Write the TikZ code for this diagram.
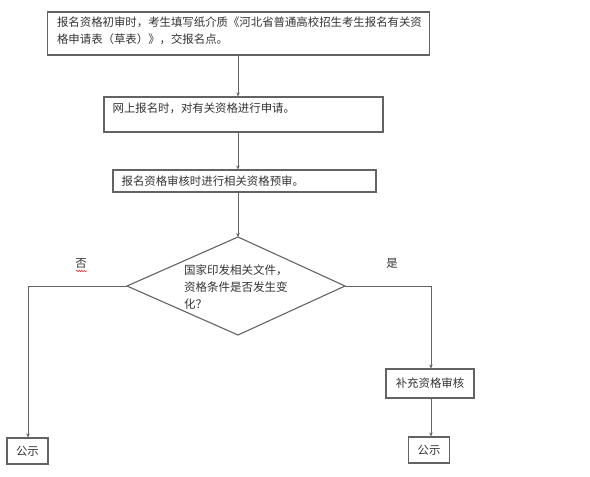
\documentclass[tikz,border=0pt]{standalone}
\usepackage{fontspec}
\setmainfont{Noto Sans CJK SC}
\usetikzlibrary{arrows.meta,decorations.pathmorphing}
\definecolor{edge}{HTML}{636363}
\definecolor{ink}{HTML}{333333}
\begin{document}
\begin{tikzpicture}[x=1pt,y=-1pt,
  box/.style={draw=edge,line width=1.2pt,inner sep=0pt},
  txt/.style={text=ink,font=\fontsize{11.4}{17}\selectfont,inner sep=0pt,align=left},
  conn/.style={draw=edge,line width=1pt},
  arr/.style={conn,-{Stealth[length=4pt,width=3.5pt]}}]
\useasboundingbox (0,0) rectangle (590,477);
% box 1
\node[box,minimum width=382pt,minimum height=43pt] (b1) at (238.5,33.5) {};
\node[txt,anchor=north west] (t1) at ([xshift=10pt,yshift=-5pt]b1.north west)
  {报名资格初审时，考生填写纸介质《河北省普通高校招生考生报名有关资\\格申请表（草表）》，交报名点。};
% box 2
\node[box,minimum width=279pt,minimum height=35pt] (b2) at (243.5,114.5) {};
\node[txt,anchor=west] (t2) at ([xshift=9pt,yshift=6.5pt]b2.west) {网上报名时，对有关资格进行申请。};
% box 3
\node[box,minimum width=263pt,minimum height=22pt] (b3) at (244.5,181) {};
\node[txt,anchor=west] (t3) at ([xshift=9pt]b3.west) {报名资格审核时进行相关资格预审。};
% diamond
\coordinate (dT) at (238,237);
\coordinate (dL) at (127,286);
\coordinate (dR) at (345,286);
\coordinate (dB) at (238,335);
\draw[conn,line width=1.1pt] (dT) -- (dR) -- (dB) -- (dL) -- cycle;
\node[txt,anchor=north west,font=\fontsize{11.5}{17}\selectfont] (td) at (184,265)
  {国家印发相关文件，\\资格条件是否发生变\\化？};
% labels
\node[txt] (no) at (81,263) {否};
\draw[red!80!white,line width=0.6pt,decorate,decoration={snake,amplitude=0.7pt,segment length=2.5pt}] (76,271) -- (87,271);
\node[txt] (yes) at (392,263) {是};
% bottom boxes
\node[box,minimum width=41pt,minimum height=26pt,txt,draw=edge] (g1) at (27.5,451) {公示};
\node[box,minimum width=88pt,minimum height=29pt,txt,draw=edge] (b5) at (430,383.5) {补充资格审核};
\node[box,minimum width=41pt,minimum height=26pt,txt,draw=edge] (g2) at (429,450) {公示};
\coordinate (cl) at (28,286);
\coordinate (cr) at (431,286);
% connectors
\draw[arr] (b1.south -| dT) -- (b2.north -| dT);
\draw[arr] (b2.south -| dT) -- (b3.north -| dT);
\draw[arr] (b3.south -| dT) -- (dT);
\draw[arr] (dL) -- (cl) -- (cl |- g1.north);
\draw[arr] (dR) -- (cr) -- (cr |- b5.north);
\draw[arr] (b5.south -| cr) -- (g2.north -| cr);
\end{tikzpicture}
\end{document}
